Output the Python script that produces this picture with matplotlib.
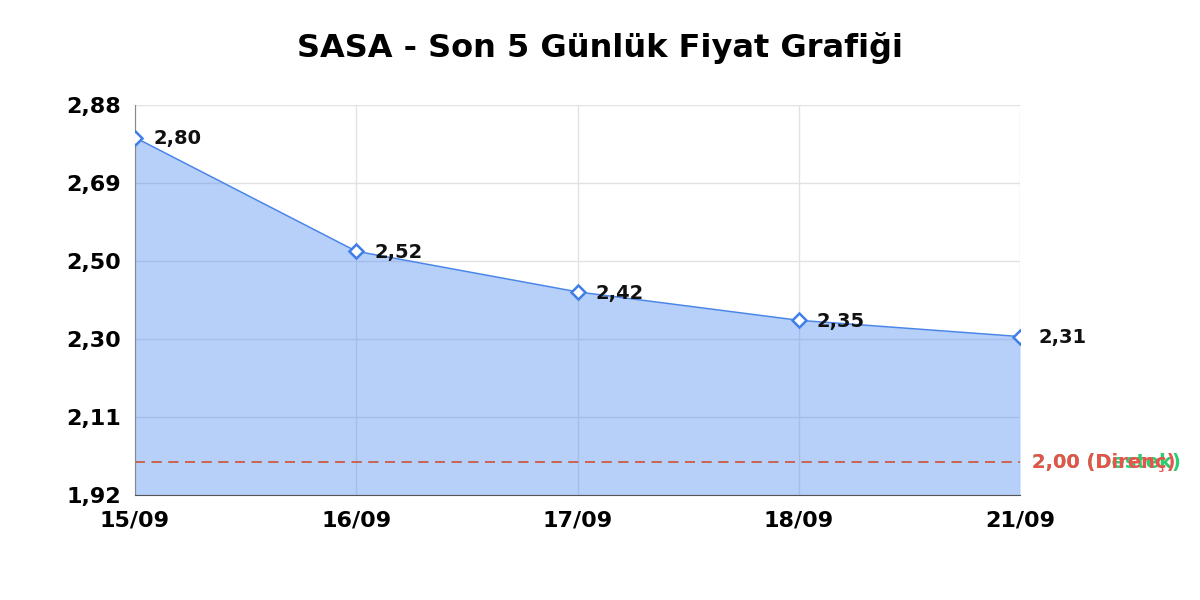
import matplotlib
matplotlib.use("Agg")
import matplotlib.pyplot as plt
from matplotlib.ticker import FixedLocator

dates = ["15/09", "16/09", "17/09", "18/09", "21/09"]
prices = [2.80, 2.52, 2.42, 2.35, 2.31]
support = 2.00
resistance = 2.00
y_ticks = [1.92, 2.112, 2.304, 2.496, 2.688, 2.88]

fig = plt.figure(figsize=(12, 6), dpi=100)
ax = fig.add_axes([135/1200, 1-495/600, (1020-135)/1200, (495-105)/600])

x = list(range(len(dates)))
ax.fill_between(x, prices, y_ticks[0], color="#4285f4", alpha=0.38, lw=0, zorder=1)
ax.plot(x, prices, color="#4a86e8", lw=1.1, zorder=3)
ax.plot(x, prices, linestyle="none", marker="D", markersize=7, markerfacecolor="white",
        markeredgecolor="#3f7fe8", markeredgewidth=1.8, zorder=4)
for xi, p in zip(x, prices):
    ax.annotate(f"{p:.2f}".replace(".", ","), (xi, p), xytext=(13, -1), textcoords="offset points",
                ha="left", va="center", fontsize=14, fontweight="bold", color="#111111", zorder=5)

ax.axhline(support, color="#2ecc71", ls=(0, (6, 4)), lw=1.2, zorder=2)
ax.axhline(resistance, color="#e8524a", ls=(0, (6, 4)), lw=1.2, zorder=2)
ax.annotate(f"{support:.2f} (Destek)".replace(".", ","), (1, support), xycoords=("axes fraction", "data"),
            xytext=(9, 0), textcoords="offset points", ha="left", va="center",
            fontsize=14, fontweight="bold", color="#2ecc71", annotation_clip=False)
ax.annotate(f"{resistance:.2f} (Direnç)".replace(".", ","), (1, resistance), xycoords=("axes fraction", "data"),
            xytext=(9, 0), textcoords="offset points", ha="left", va="center",
            fontsize=14, fontweight="bold", color="#e8524a", annotation_clip=False)

ax.set_xlim(0, len(dates) - 1)
ax.set_ylim(y_ticks[0], y_ticks[-1])
ax.set_xticks(x)
ax.set_xticklabels(dates, fontsize=16, fontweight="bold")
ax.yaxis.set_major_locator(FixedLocator(y_ticks))
ax.set_yticklabels([f"{v:.2f}".replace(".", ",") for v in y_ticks], fontsize=16, fontweight="bold")
ax.tick_params(axis="y", length=0, pad=10)
ax.tick_params(axis="x", length=0, pad=11)
ax.grid(True, color="#e2e2e2", lw=1, zorder=0)
ax.set_axisbelow(True)
for s in ["top", "right"]:
    ax.spines[s].set_visible(False)
ax.spines["left"].set_color("#888888")
ax.spines["bottom"].set_color("#555555")

fig.suptitle("SASA - Son 5 Günlük Fiyat Grafiği", y=1-48/600, va="center", fontsize=23, fontweight="bold")
fig.savefig("out.png", dpi=100, facecolor="white")
